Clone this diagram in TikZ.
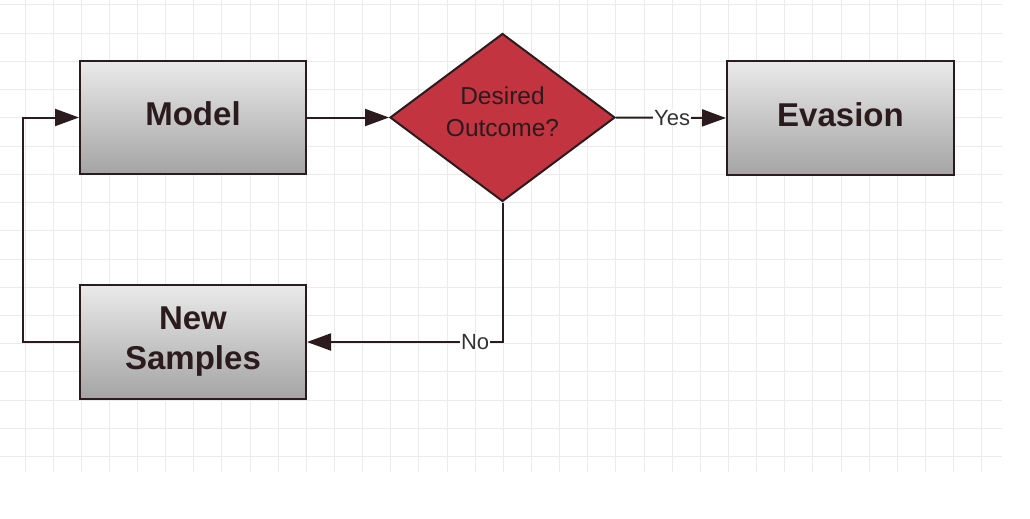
\documentclass[tikz,border=0pt]{standalone}
\usepackage{fontspec}
\setmainfont{Liberation Sans}
\usetikzlibrary{shapes.geometric,arrows.meta}
\definecolor{ink}{HTML}{2B1B1E}
\definecolor{boxtop}{HTML}{EAEAEA}
\definecolor{boxbot}{HTML}{A4A4A4}
\definecolor{dred}{HTML}{C2343F}
\definecolor{gridc}{HTML}{EBEBEB}
\definecolor{lblc}{HTML}{333333}
\tikzset{
  procbox/.style={draw=ink, line width=2pt, top color=boxtop, bottom color=boxbot,
    minimum width=226pt, minimum height=113pt, inner sep=0pt, align=center,
    font=\fontsize{33}{40}\selectfont\bfseries, text=ink},
  decision/.style={diamond, aspect=1.34, draw=ink, line width=2pt, fill=dred, inner sep=0pt,
    minimum width=225pt, minimum height=168pt, align=center,
    font=\fontsize{24.5}{32}\selectfont, text=ink},
  conn/.style={draw=ink, line width=2pt, -{Triangle[length=24pt,width=17pt]}},
  lbl/.style={fill=white, inner sep=1pt, text=lblc, font=\fontsize{22}{26}\selectfont},
  gridline/.style={draw=gridc, line width=1pt}
}
\begin{document}
\begin{tikzpicture}[x=1pt,y=-1pt]
\useasboundingbox[fill=white] (0,0) rectangle (1030,519);
% grid
\foreach \k in {0,...,34} {
  \draw[gridline] ({25+28.14*\k},0) -- ({25+28.14*\k},472);
}
\foreach \k in {0,...,16} {
  \draw[gridline] (0,{5+28.23*\k}) -- (1002,{5+28.23*\k});
}
% nodes
\node[procbox, text depth=7pt] (model) at (193,117.5) {Model};
\node[decision, text depth=11pt] (dia) at (502.5,117.5) {Desired\\Outcome?};
\node[procbox, text depth=7pt, minimum width=227pt, minimum height=114pt] (eva) at (840.5,118) {Evasion};
\node[procbox, minimum height=114pt] (ns) at (193,342) {New\\Samples};
\coordinate (loop) at (23,342);
% connectors
\draw[conn] (model.east) -- (dia.west);
\draw[conn] (dia.east) -- node[lbl, pos=0.51] {Yes} (eva.west);
\draw[conn] (dia.south) |- node[lbl, pos=0.57] {No} (ns.east);
\draw[conn] (ns.west) -- (loop) |- (model.west);
\end{tikzpicture}
\end{document}
